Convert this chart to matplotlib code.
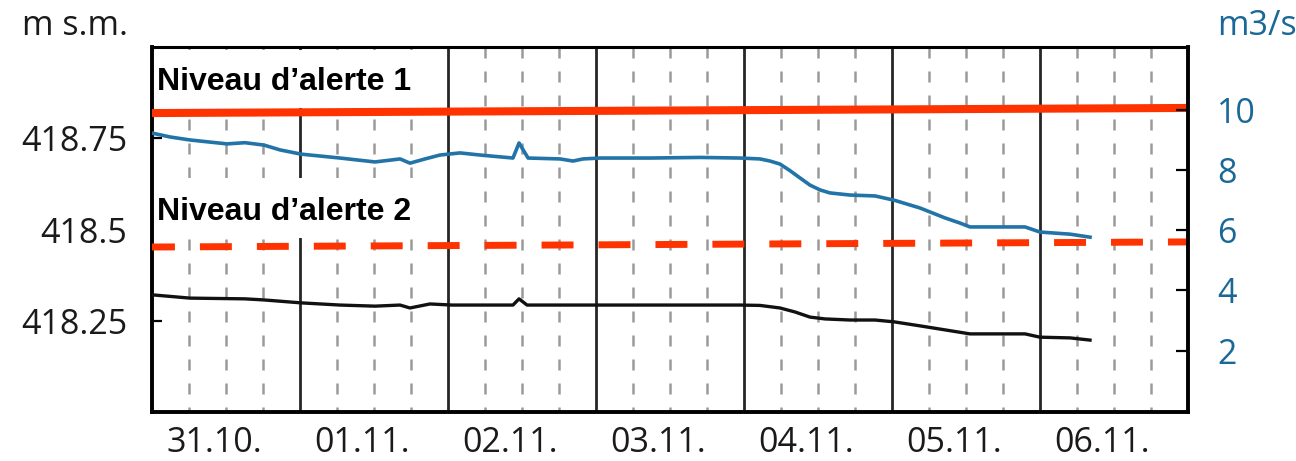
import matplotlib
matplotlib.use("Agg")
import matplotlib.pyplot as plt
from matplotlib.patches import Rectangle

# ---- data ----
day_labels = ["31.10.", "01.11.", "02.11.", "03.11.", "04.11.", "05.11.", "06.11."]

# discharge (m3/s), time in days since 31.10. 00:00
t_q = [0.0, 0.122, 0.257, 0.507, 0.628, 0.757, 0.865, 1.007, 1.270, 1.507, 1.676,
       1.743, 1.845, 1.946, 2.081, 2.216, 2.439, 2.480, 2.541, 2.757, 2.845, 2.912,
       3.027, 3.365, 3.703, 3.973, 4.108, 4.176, 4.243, 4.311, 4.378, 4.446, 4.514,
       4.581, 4.716, 4.885, 5.014, 5.189, 5.358, 5.459, 5.527, 5.730, 5.899, 6.000,
       6.203, 6.338]
q = [9.23, 9.10, 9.00, 8.87, 8.91, 8.83, 8.67, 8.53, 8.40, 8.27, 8.37,
     8.23, 8.37, 8.50, 8.57, 8.50, 8.40, 8.90, 8.40, 8.37, 8.30, 8.37,
     8.40, 8.40, 8.42, 8.40, 8.37, 8.30, 8.20, 7.98, 7.74, 7.50, 7.34,
     7.24, 7.17, 7.14, 7.00, 6.74, 6.41, 6.24, 6.11, 6.11, 6.11, 5.94,
     5.87, 5.77]

# water level (m s.m.)
t_h = [0.0, 0.257, 0.628, 0.757, 1.007, 1.270, 1.507, 1.676, 1.743, 1.878, 2.027,
       2.439, 2.480, 2.534, 3.027, 3.973, 4.108, 4.243, 4.345, 4.446, 4.547, 4.716,
       4.885, 5.014, 5.189, 5.358, 5.527, 5.730, 5.899, 6.000, 6.203, 6.338]
h = [418.321, 418.312, 418.310, 418.307, 418.299, 418.293, 418.290, 418.293, 418.285,
     418.296, 418.293, 418.293, 418.310, 418.293, 418.293, 418.293, 418.292, 418.285,
     418.274, 418.260, 418.255, 418.252, 418.252, 418.247, 418.236, 418.225, 418.214,
     418.214, 418.214, 418.205, 418.203, 418.197]

alert1 = [418.819, 418.833]   # start / end of "Niveau d'alerte 1"
alert2 = [418.452, 418.466]   # start / end of "Niveau d'alerte 2"
alert1_label = "Niveau d’alerte 1"
alert2_label = "Niveau d’alerte 2"

left_ticks = [418.25, 418.5, 418.75]
left_tick_labels = ["418.25", "418.5", "418.75"]
right_ticks = [2, 4, 6, 8, 10]
right_tick_labels = ["2", "4", "6", "8", "10"]

# ---- style ----
BLUE = "#2274a8"
BLUE_TXT = "#1a6898"
RED = "#ff3300"
TXT = "#1a1a1a"
FONT = ["Open Sans", "DejaVu Sans"]
BOLD = ["Liberation Sans", "DejaVu Sans"]
FS = 24.5

fig = plt.figure(figsize=(12.96, 4.61), dpi=100)
ax = fig.add_axes([152 / 1296, 49 / 461, 1036 / 1296, 365 / 461])
ax.set_xlim(0, len(day_labels))
ax.set_ylim(418.0, 419.0)

# grid: solid at day boundaries, dashed every 6 hours
n_days = len(day_labels)
for i in range(1, n_days * 4):
    xv = i / 4
    if i % 4 == 0:
        ax.plot([xv, xv], [419.0, 418.0], color="#262626", lw=2.0, zorder=1,
                solid_capstyle="butt")
    else:
        ax.plot([xv, xv], [419.0, 418.0], color="#9a9a9a", lw=1.8, zorder=1,
                linestyle=(0, (4.4, 5.2)))

# white boxes behind the alert labels
ax.add_patch(Rectangle((0, 0.833), 0.257, 0.159, transform=ax.transAxes,
                       fc="white", ec="none", zorder=2))
ax.add_patch(Rectangle((0, 0.477), 0.257, 0.164, transform=ax.transAxes,
                       fc="white", ec="none", zorder=2))

# alert lines
ax.plot([0, n_days], alert1, color=RED, lw=5.8, solid_capstyle="butt", zorder=3)
ax.plot([0, n_days], alert2, color=RED, lw=5.0, linestyle=(1.3, (4.6, 3.6)), zorder=3)

ax.text(0.0048, 0.882, alert1_label, transform=ax.transAxes, family=BOLD,
        fontweight="bold", fontsize=23, color="black", va="baseline", zorder=4)
ax.text(0.0048, 0.526, alert2_label, transform=ax.transAxes, family=BOLD,
        fontweight="bold", fontsize=23, color="black", va="baseline", zorder=4)

# water level
ax.plot(t_h, h, color="#111111", lw=2.4, zorder=3)

# axes styling
for s in ["left", "bottom"]:
    ax.spines[s].set_linewidth(2.8)
ax.spines["top"].set_linewidth(2.2)
ax.spines["right"].set_visible(False)

ax.set_yticks(left_ticks)
ax.set_yticklabels(left_tick_labels, family=FONT, fontsize=FS, color=TXT)
ax.tick_params(axis="y", direction="in", length=7, width=1.6, pad=18)
ax.set_xticks([d + 0.42 for d in range(n_days)])
ax.set_xticklabels(day_labels, family=FONT, fontsize=FS, color=TXT)
ax.tick_params(axis="x", length=0, pad=10)

# discharge on right axis
ax2 = ax.twinx()
ax2.set_ylim(-0.04, 12.09)
ax2.plot(t_q, q, color=BLUE, lw=2.6, zorder=3)
for s in ["left", "bottom", "top"]:
    ax2.spines[s].set_visible(False)
ax2.spines["right"].set_linewidth(2.8)
ax2.set_yticks(right_ticks)
ax2.set_yticklabels(right_tick_labels, family=FONT, fontsize=FS, color=BLUE_TXT)
ax2.tick_params(axis="y", direction="in", length=9, width=1.6, pad=21)

fig.text(128 / 1296, 1 - 35 / 461, "m s.m.", family=FONT, fontsize=FS, color=TXT,
         ha="right", va="baseline")
fig.text(1217 / 1296, 1 - 35 / 461, "m3/s", family=FONT, fontsize=FS, color=BLUE_TXT,
         ha="left", va="baseline")

fig.savefig("out.png", dpi=100)
